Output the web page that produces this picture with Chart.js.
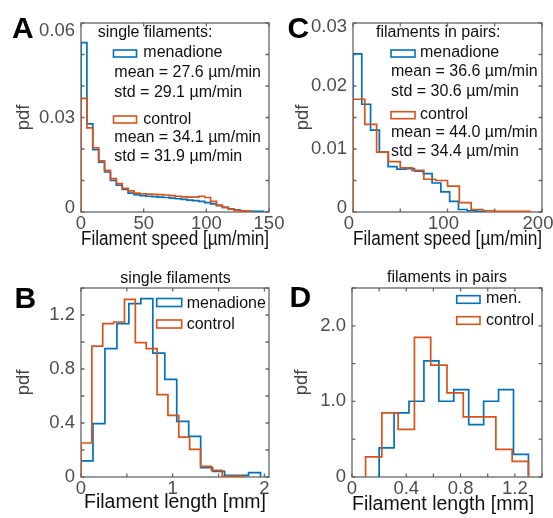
<!DOCTYPE html>
<html lang="en">
<head>
<meta charset="UTF-8">
<title>Filament speed and length</title>
<script src="https://cdn.jsdelivr.net/npm/chart.js@4.4.1/dist/chart.umd.min.js"></script>
<style>
    html, body { margin: 0; padding: 0; background: #ffffff; overflow: hidden; }
    #figure { position: relative; width: 553px; height: 518px; }
    #figure canvas { position: absolute; }
</style>
</head>
<body>
<div id="figure">
    <canvas id="chart-a" width="310" height="259" style="left:0;top:0"></canvas>
    <canvas id="chart-b" width="310" height="259" style="left:0;top:259px"></canvas>
    <canvas id="chart-c" width="277" height="259" style="left:276px;top:0"></canvas>
    <canvas id="chart-d" width="277" height="259" style="left:276px;top:259px"></canvas>
</div>
<script>
// A: velocidad, filamentos simples (pdf por intervalo)
const speedSingleBinStart = 0;
const speedSingleBinWidth = 4.7;
const speedSingleMenadione = [0.0538, 0.0280, 0.0198, 0.0158, 0.0127, 0.0100, 0.0085, 0.0072, 0.0060, 0.0055,
    0.0052, 0.0050, 0.0049, 0.0047, 0.0046, 0.0044, 0.0042, 0.0040, 0.0038, 0.0036,
    0.0034, 0.0030, 0.0026, 0.0020, 0.0015, 0.0010, 0.0007, 0.0004, 0.0003, 0.0002, 0.0002];
const speedSingleControl = [0.0361, 0.0267, 0.0204, 0.0162, 0.0132, 0.0106, 0.0090, 0.0075, 0.0067, 0.0060,
    0.0058, 0.0057, 0.0056, 0.0055, 0.0054, 0.0052, 0.0050, 0.0048, 0.0047, 0.0047,
    0.0050, 0.0046, 0.0034, 0.0022, 0.0015, 0.0009, 0.0005, 0.0003, 0.0002];

// C: velocidad, filamentos en pares
const speedPairsMenadioneStart = 0;
const speedPairsMenadioneWidth = 9.3;
const speedPairsMenadione = [0.0251, 0.0171, 0.0130, 0.0095, 0.0072, 0.0068, 0.0069, 0.0065, 0.0061, 0.0046,
    0.0032, 0.0017, 0.0004, 0.0002, 0.0001];
const speedPairsControlStart = 0;
const speedPairsControlWidth = 12.5;
const speedPairsControl = [0.0179, 0.0139, 0.0095, 0.0080, 0.0070, 0.0066, 0.0052, 0.0050, 0.0041, 0.0015,
    0.0004, 0.0002, 0.0001, 0.0001, 0.0001];

// B: longitud, filamentos simples
const lengthSingleMenadioneStart = 0;
const lengthSingleMenadioneWidth = 0.1305;
const lengthSingleMenadione = [0.119, 0.395, 0.951, 1.136, 1.284, 1.321, 0.918, 0.723, 0.412, 0.301,
    0.069, 0.042, 0.012, 0.012, 0.032];
const lengthSingleControlStart = 0;
const lengthSingleControlWidth = 0.1185;
const lengthSingleControl = [0.252, 0.970, 1.136, 1.148, 1.316, 0.995, 0.951, 0.610, 0.457, 0.296,
    0.205, 0.079, 0.049, 0.005, 0.007];

// D: longitud, filamentos en pares
const lengthPairsMenadioneStart = 0.2;
const lengthPairsMenadioneWidth = 0.11;
const lengthPairsMenadione = [0.384, 0.848, 1.002, 1.536, 1.002, 1.157, 0.693, 1.002, 1.157, 0.300];
const lengthPairsControlStart = 0.1;
const lengthPairsControlWidth = 0.12;
const lengthPairsControl = [0.265, 0.848, 0.631, 1.846, 1.479, 1.113, 0.795, 0.795, 0.366, 0.208];

// Etiquetas de los ejes
const speedSingleXTicks = [0, 50, 100, 150];
const speedSingleYTicks = [0, 0.03, 0.06];
const speedPairsXTicks = [0, 100, 200];
const speedPairsYTicks = [0, 0.01, 0.02, 0.03];
const lengthSingleXTicks = [0, 1, 2];
const lengthSingleYTicks = [0, 0.4, 0.8, 1.2];
const lengthPairsXTicks = [0, 0.4, 0.8, 1.2];
const lengthPairsYTicks = [0, 1, 2];

const BLUE = "#0072BD";
const RED = "#D95319";
const TICK_COLOR = "#4d4d4d";
const FONT = "\"Liberation Sans\", Arial, Helvetica, sans-serif";

Chart.defaults.font.family = FONT;

// Contorno tipo "stairs" de un histograma
function stairs(start, width, values) {
    const points = [{ x: start, y: 0 }];
    values.forEach((v, i) => {
        points.push({ x: start + i * width, y: v });
    });
    points.push({ x: start + values.length * width, y: 0 });
    return points;
}

function tickText(value, labels, decimals) {
    const found = labels.find((l) => Math.abs(l - value) < 1e-9);
    if (found === undefined) return "";
    return found === 0 ? "0" : found.toFixed(decimals);
}

// Caja del eje con marcas hacia dentro (estilo MATLAB)
const framePlugin = {
    id: "frame",
    beforeDraw(chart, args, opts) {
        // las etiquetas extremas del eje y quedan dentro de la caja
        const shifts = opts.yLabelShift;
        if (!shifts) return;
        chart.scales.y.getLabelItems().forEach((item) => {
            if (shifts[item.label] !== undefined) {
                item.options.translation[1] += shifts[item.label];
            }
        });
    },
    beforeDatasetsDraw(chart) {
        const { ctx, chartArea: a, scales } = chart;
        const len = 3.5;
        ctx.save();
        ctx.strokeStyle = "#666666";
        ctx.lineWidth = 1.3;
        ctx.strokeRect(a.left, a.top, a.width, a.height);
        ctx.beginPath();
        scales.x.ticks.forEach((t) => {
            const px = scales.x.getPixelForValue(t.value);
            ctx.moveTo(px, a.bottom);
            ctx.lineTo(px, a.bottom - len);
            ctx.moveTo(px, a.top);
            ctx.lineTo(px, a.top + len);
        });
        scales.y.ticks.forEach((t) => {
            const py = scales.y.getPixelForValue(t.value);
            ctx.moveTo(a.left, py);
            ctx.lineTo(a.left + len, py);
            ctx.moveTo(a.right, py);
            ctx.lineTo(a.right - len, py);
        });
        ctx.stroke();
        ctx.restore();
    }
};

// Letras de panel, títulos y leyendas
const notesPlugin = {
    id: "notes",
    afterDraw(chart, args, opts) {
        const ctx = chart.ctx;
        ctx.save();
        (opts.boxes || []).forEach((b) => {
            ctx.fillStyle = "#ffffff";
            ctx.fillRect(b.x, b.y, b.w, b.h);
            ctx.strokeStyle = b.color;
            ctx.lineWidth = 1.6;
            ctx.strokeRect(b.x, b.y, b.w, b.h);
        });
        (opts.texts || []).forEach((t) => {
            ctx.font = t.font || "16px " + FONT;
            ctx.fillStyle = t.color || "#111111";
            ctx.textAlign = t.align || "left";
            ctx.textBaseline = "alphabetic";
            ctx.fillText(t.text, t.x, t.y);
        });
        ctx.restore();
    }
};

function buildChart(canvasId, cfg) {
    return new Chart(document.getElementById(canvasId), {
        type: "line",
        data: {
            datasets: [
                {
                    label: "menadione",
                    data: stairs(cfg.men[0], cfg.men[1], cfg.men[2]),
                    borderColor: BLUE,
                    order: 2
                },
                {
                    label: "control",
                    data: stairs(cfg.ctl[0], cfg.ctl[1], cfg.ctl[2]),
                    borderColor: RED,
                    order: 1
                }
            ]
        },
        options: {
            responsive: false,
            animation: false,
            events: [],
            layout: { padding: cfg.padding },
            elements: {
                point: { radius: 0 },
                line: { borderWidth: 1.7, stepped: "before", tension: 0, fill: false, borderJoinStyle: "miter" }
            },
            plugins: {
                legend: { display: false },
                tooltip: { enabled: false },
                frame: { yLabelShift: cfg.yLabelShift },
                notes: cfg.notes
            },
            scales: {
                x: {
                    type: "linear",
                    min: cfg.xMin,
                    max: cfg.xMax,
                    grid: { display: false, drawTicks: false },
                    border: { display: false },
                    ticks: {
                        stepSize: cfg.xStep,
                        autoSkip: false,
                        maxRotation: 0,
                        includeBounds: false,
                        padding: 1,
                        labelOffset: cfg.xLabelOffset || 0,
                        color: TICK_COLOR,
                        font: { size: 18.5 },
                        callback: (value) => tickText(value, cfg.xTicks, cfg.xDecimals)
                    },
                    title: {
                        display: true,
                        text: cfg.xTitle,
                        align: cfg.xTitleAlign || "center",
                        color: "#111111",
                        font: { size: 19.5 },
                        padding: { top: 0, bottom: cfg.xTitlePad }
                    },
                    afterFit: (scale) => {
                        scale.height = cfg.xAxisHeight;
                        scale.paddingLeft = 0;
                        scale.paddingRight = 0;
                    }
                },
                y: {
                    type: "linear",
                    min: 0,
                    max: cfg.yMax,
                    grid: { display: false, drawTicks: false },
                    border: { display: false },
                    ticks: {
                        stepSize: cfg.yStep,
                        autoSkip: false,
                        includeBounds: false,
                        padding: 6,
                        color: TICK_COLOR,
                        font: { size: 18.5 },
                        callback: (value) => tickText(value, cfg.yTicks, cfg.yDecimals)
                    },
                    title: {
                        display: true,
                        text: "pdf",
                        color: "#444444",
                        font: { size: 18.5 },
                        padding: { top: cfg.yTitlePad, bottom: 0 }
                    },
                    afterFit: (scale) => {
                        scale.width = cfg.yAxisWidth;
                        scale.paddingTop = 0;
                        scale.paddingBottom = 0;
                    }
                }
            }
        },
        plugins: [framePlugin, notesPlugin]
    });
}

const letterFont = "bold 30px " + FONT;

buildChart("chart-a", {
    men: [speedSingleBinStart, speedSingleBinWidth, speedSingleMenadione],
    ctl: [speedSingleBinStart, speedSingleBinWidth, speedSingleControl],
    padding: { left: 0, top: 23, right: 41, bottom: 0 },
    yAxisWidth: 81, xAxisHeight: 47,
    xMin: 0, xMax: 150, xStep: 50, xTicks: speedSingleXTicks, xDecimals: 0,
    yMax: 0.06, yStep: 0.01, yTicks: speedSingleYTicks, yDecimals: 2,
    yLabelShift: { "0": -4, "0.06": 7.5 },
    xTitle: "Filament speed [µm/min]", xTitlePad: 7.4, yTitlePad: 13,
    notes: {
        boxes: [
            { x: 113.5, y: 50, w: 23, h: 7, color: BLUE },
            { x: 113.5, y: 116, w: 23, h: 7, color: RED }
        ],
        texts: [
            { text: "A", x: 12, y: 37.5, font: letterFont, color: "#000000" },
            { text: "single filaments:", x: 97.7, y: 37.3 },
            { text: "menadione", x: 143.3, y: 57.3 },
            { text: "mean = 27.6 µm/min", x: 114.3, y: 76.7 },
            { text: "std = 29.1 µm/min", x: 114.3, y: 96.7 },
            { text: "control", x: 143.3, y: 124 },
            { text: "mean = 34.1 µm/min", x: 114.3, y: 141.7 },
            { text: "std = 31.9 µm/min", x: 114.3, y: 160.7 }
        ]
    }
});

buildChart("chart-c", {
    men: [speedPairsMenadioneStart, speedPairsMenadioneWidth, speedPairsMenadione],
    ctl: [speedPairsControlStart, speedPairsControlWidth, speedPairsControl],
    padding: { left: 0, top: 23, right: 11, bottom: 0 },
    yAxisWidth: 77, xAxisHeight: 47,
    xMin: 0, xMax: 200, xStep: 50, xTicks: speedPairsXTicks, xDecimals: 0, xLabelOffset: -4,
    yMax: 0.03, yStep: 0.005, yTicks: speedPairsYTicks, yDecimals: 2,
    yLabelShift: { "0": -4, "0.03": 3.7 },
    xTitle: "Filament speed [µm/min]", xTitlePad: 7.4, yTitlePad: 16,
    notes: {
        boxes: [
            { x: 115, y: 50, w: 24, h: 7, color: BLUE },
            { x: 115, y: 111.7, w: 24, h: 7, color: RED }
        ],
        texts: [
            { text: "C", x: 11.5, y: 37.5, font: letterFont, color: "#000000" },
            { text: "filaments in pairs:", x: 100, y: 37.3 },
            { text: "menadione", x: 144, y: 57.3 },
            { text: "mean = 36.6 µm/min", x: 115, y: 76 },
            { text: "std = 30.6 µm/min", x: 115, y: 95.7 },
            { text: "control", x: 144, y: 119 },
            { text: "mean = 44.0 µm/min", x: 115, y: 136.7 },
            { text: "std = 34.4 µm/min", x: 115, y: 156 }
        ]
    }
});

buildChart("chart-b", {
    men: [lengthSingleMenadioneStart, lengthSingleMenadioneWidth, lengthSingleMenadione],
    ctl: [lengthSingleControlStart, lengthSingleControlWidth, lengthSingleControl],
    padding: { left: 0, top: 29, right: 41, bottom: 0 },
    yAxisWidth: 81, xAxisHeight: 41,
    xMin: 0, xMax: 2.05, xStep: 0.5, xTicks: lengthSingleXTicks, xDecimals: 0,
    yMax: 1.4, yStep: 0.2, yTicks: lengthSingleYTicks, yDecimals: 1,
    xTitle: "Filament length [mm]", xTitlePad: 4.1, yTitlePad: 13,
    notes: {
        boxes: [
            { x: 156.7, y: 39.5, w: 25, h: 8, color: BLUE },
            { x: 156.7, y: 61, w: 25, h: 8, color: RED }
        ],
        texts: [
            { text: "B", x: 14.5, y: 48.7, font: letterFont, color: "#000000" },
            { text: "single filaments", x: 175.5, y: 24.3, align: "center" },
            { text: "menadione", x: 186.7, y: 48.7 },
            { text: "control", x: 186.7, y: 70 }
        ]
    }
});

buildChart("chart-d", {
    men: [lengthPairsMenadioneStart, lengthPairsMenadioneWidth, lengthPairsMenadione],
    ctl: [lengthPairsControlStart, lengthPairsControlWidth, lengthPairsControl],
    padding: { left: 0, top: 29, right: 11, bottom: 0 },
    yAxisWidth: 76, xAxisHeight: 41,
    xMin: 0, xMax: 1.4, xStep: 0.2, xTicks: lengthPairsXTicks, xDecimals: 1,
    yMax: 2.5, yStep: 0.5, yTicks: lengthPairsYTicks, yDecimals: 1,
    xTitle: "Filament length [mm]", xTitleAlign: "start", xTitlePad: 2.1, yTitlePad: 14.6,
    notes: {
        boxes: [
            { x: 180.7, y: 36.7, w: 23.3, h: 7.6, color: BLUE },
            { x: 180.7, y: 57.7, w: 23.3, h: 7.6, color: RED }
        ],
        texts: [
            { text: "D", x: 13.5, y: 47.7, font: letterFont, color: "#000000" },
            { text: "filaments in pairs", x: 171, y: 22.7, align: "center" },
            { text: "men.", x: 210, y: 44.3 },
            { text: "control", x: 210, y: 66 }
        ]
    }
});
</script>
</body>
</html>
